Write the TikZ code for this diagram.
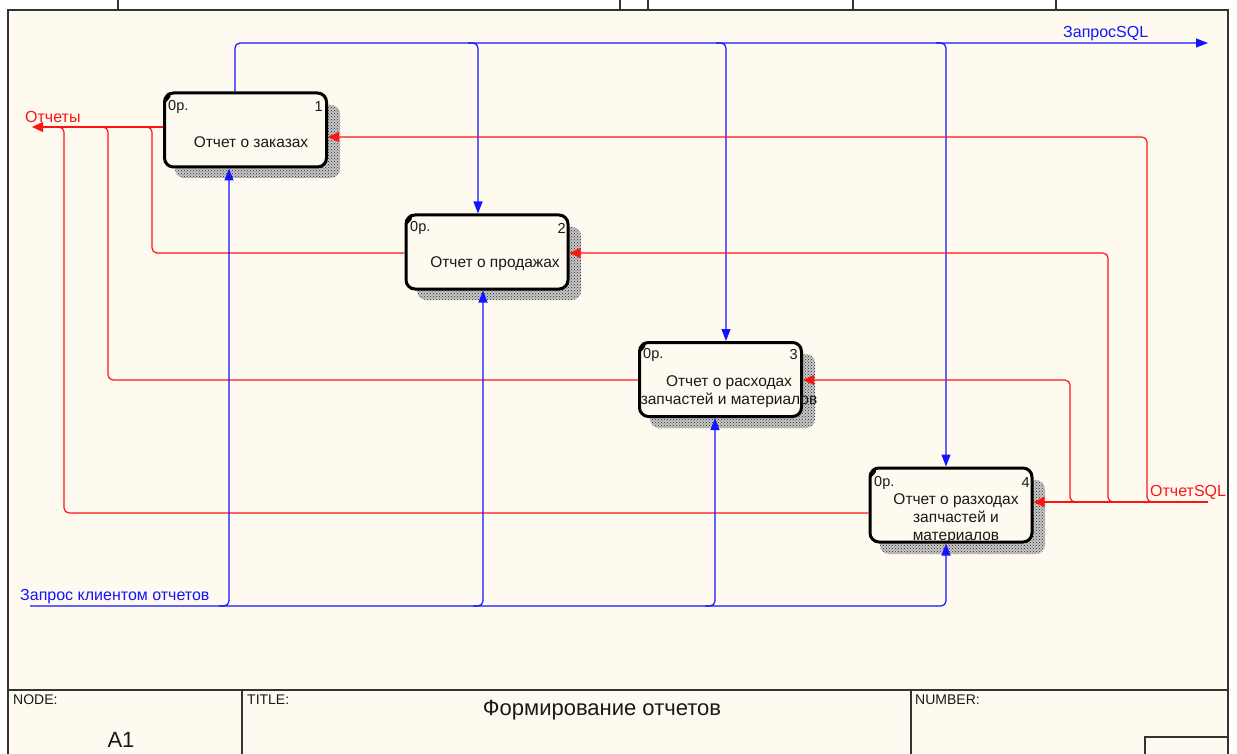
\documentclass[tikz,border=0pt]{standalone}
\usepackage{fontspec}
\setmainfont{Liberation Sans}
\usetikzlibrary{arrows.meta,patterns,calc}
\definecolor{paper}{RGB}{254,250,240}
\definecolor{idefblue}{RGB}{20,20,255}
\definecolor{idefred}{RGB}{255,20,20}
\begin{document}
\begin{tikzpicture}[x=1pt,y=-1pt,
  frame/.style={draw=black!80, line width=1.6pt},
  funcbox/.style={draw=black, line width=3pt, rounded corners=9pt, fill=paper,
    minimum width=162pt, minimum height=74pt, inner sep=0pt},
  shadowbase/.style={rounded corners=9pt, fill=black!22},
  shadowbox/.style={rounded corners=9pt, pattern=crosshatch dots, pattern color=black!85},
  corner/.style={fill=black},
  smalltxt/.style={font=\fontsize{14.5}{17}\selectfont, inner sep=0pt, text=black!90},
  boxtxt/.style={font=\fontsize{15.5}{17.5}\selectfont, inner sep=0pt, align=center, text=black!90},
  bl/.style={draw=idefblue, line width=1.2pt, rounded corners=5pt},
  rl/.style={draw=idefred, line width=1.2pt, rounded corners=5pt},
  btip/.style={-{Triangle[length=12pt,width=9pt]}},
  rtip/.style={-{Triangle[length=11pt,width=10pt]}},
  blbl/.style={font=\fontsize{16}{18}\selectfont, inner sep=0pt, text=idefblue},
  rlbl/.style={font=\fontsize{16}{18}\selectfont, inner sep=0pt, text=idefred},
  blocklbl/.style={font=\fontsize{14}{16}\selectfont, inner sep=0pt, anchor=west, text=black!90}]

% page
\useasboundingbox (0,0) rectangle (1237,754);
\fill[white] (0,0) rectangle (1237,754);
\fill[paper] (8,10) rectangle (1228,754);
\draw[frame] (8,754) -- (8,10) -- (1228,10) -- (1228,754);
\foreach \tx in {118,620,648,853,1056} \draw[black!80, line width=1.2pt] (\tx,0) -- (\tx,10);

% shadows
\foreach \sx/\sy/\ex/\ey in {175/105/340/178, 417/227/581/300, 650/354/815/428, 880/480/1045/554} {
  \fill[shadowbase] (\sx,\sy) rectangle (\ex,\ey);
  \fill[shadowbox] (\sx,\sy) rectangle (\ex,\ey);
}

% function boxes
\node[funcbox] (b1) at (245.5,130) {};
\node[funcbox] (b2) at (487,252) {};
\node[funcbox] (b3) at (720.5,379.5) {};
\node[funcbox] (b4) at (951,505) {};

\foreach \b in {b1,b2,b3,b4}
  \fill[corner] ($(\b.north west)+(1.5,12)$) [rounded corners=9pt] |- ($(\b.north west)+(12,1.5)$) [sharp corners] -- cycle;

\node[smalltxt, anchor=west] (p1) at (168,107) {0р.};
\node[smalltxt, anchor=east] (n1) at (323,107) {1};
\node[boxtxt] (t1) at (251,142) {Отчет о заказах};

\node[smalltxt, anchor=west] (p2) at (410,228) {0р.};
\node[smalltxt, anchor=east] (n2) at (566,228) {2};
\node[boxtxt] (t2) at (495,264) {Отчет о продажах};

\node[smalltxt, anchor=west] (p3) at (643,355) {0р.};
\node[smalltxt, anchor=east] (n3) at (798,355) {3};
\node[boxtxt] (t3) at (729,391.5) {Отчет о расходах\\запчастей и материалов};

\node[smalltxt, anchor=west] (p4) at (874,483) {0р.};
\node[smalltxt, anchor=east] (n4) at (1030,483) {4};
\node[boxtxt, font=\fontsize{15.5}{18}\selectfont] (t4) at (956,519) {Отчет о разходах\\запчастей и\\материалов};

% free ends and junction points
\coordinate (sqlout) at (1208,43);
\coordinate (rep) at (32,127);
\coordinate (sqlin) at (1208,502);
\coordinate (req) at (30,606);
\coordinate (ja) at (235,43);
\coordinate (j2) at (478,43);
\coordinate (j3) at (726,43);
\coordinate (j4) at (946,43);
\coordinate (c1) at (152,127);
\coordinate (c2) at (108,127);
\coordinate (c3) at (64,127);
\coordinate (i1) at (1147,502);
\coordinate (i2) at (1108,502);
\coordinate (i3) at (1070,502);
\coordinate (k1) at (229,606);
\coordinate (k2) at (483,606);
\coordinate (k3) at (715,606);
\coordinate (k4) at (946,606);

% blue control: ЗапросSQL
\draw[bl, btip] (b1.north -| ja) |- (sqlout);
\draw[bl, btip] ($(j2)+(-10,0)$) -| (b2.north -| j2);
\draw[bl, btip] ($(j3)+(-10,0)$) -| (b3.north -| j3);
\draw[bl, btip] ($(j4)+(-10,0)$) -| (b4.north -| j4);
\node[blbl, anchor=south west] (lsqlout) at (1063,41) {ЗапросSQL};

% red output: Отчеты
\draw[rl, rtip] (b1.west |- rep) -- (rep);
\draw[rl] (b2.west |- 0,253) -| (c1) -- ++(-10,0);
\draw[rl] (b3.west |- 0,380) -| (c2) -- ++(-10,0);
\draw[rl] (b4.west |- 0,513) -| (c3) -- ++(-10,0);
\node[rlbl, anchor=south west] (lrep) at (25,123) {Отчеты};

% red input: ОтчетSQL
\draw[rl, rtip] (sqlin) -- (b4.east |- sqlin);
\draw[rl, rtip] ($(i1)+(10,0)$) -| (i1 |- 0,137) -- (b1.east |- 0,137);
\draw[rl, rtip] ($(i2)+(10,0)$) -| (i2 |- 0,253) -- (b2.east |- 0,253);
\draw[rl, rtip] ($(i3)+(10,0)$) -| (i3 |- 0,380) -- (b3.east |- 0,380);
\node[rlbl, anchor=south west] (lsqlin) at (1150,500) {ОтчетSQL};

% blue input: Запрос клиентом отчетов
\draw[bl, btip] (req) -| (b4.south -| k4);
\draw[bl, btip] ($(k1)+(-10,0)$) -| (b1.south -| k1);
\draw[bl, btip] ($(k2)+(-10,0)$) -| (b2.south -| k2);
\draw[bl, btip] ($(k3)+(-10,0)$) -| (b3.south -| k3);
\node[blbl, anchor=south west] (lreq) at (20,604) {Запрос клиентом отчетов};

% title block
\draw[frame] (8,690) -- (1228,690);
\draw[frame] (242,690) -- (242,754);
\draw[frame] (911,690) -- (911,754);
\draw[frame, line width=1.2pt] (1145,754) -- (1145,737) -- (1228,737);
\node[blocklbl] (node) at (13,700) {NODE:};
\node[blocklbl] (title) at (247,700) {TITLE:};
\node[blocklbl] (number) at (915,700) {NUMBER:};
\node[font=\fontsize{22}{24}\selectfont, inner sep=0pt, text=black!90] (a1) at (121,740) {A1};
\node[font=\fontsize{22}{24}\selectfont, inner sep=0pt, text=black!90] (ttl) at (602,710) {Формирование отчетов};
\end{tikzpicture}
\end{document}
